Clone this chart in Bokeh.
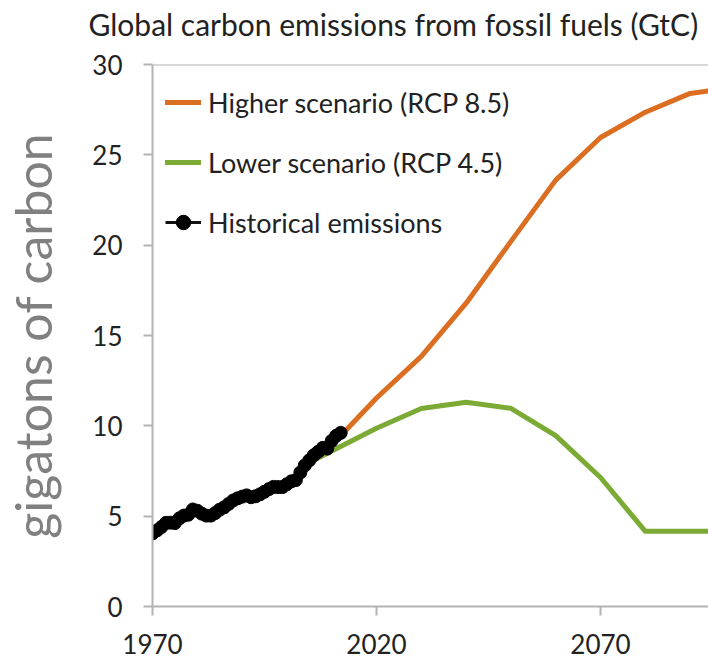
from bokeh.plotting import figure
from bokeh.models import FixedTicker, Span, Legend, LegendItem, Range1d
from bokeh.embed import file_html
from bokeh.resources import INLINE

# ---- data (GtC) ----
hist_years = list(range(1970, 2013))
hist_vals = [4.05, 4.21, 4.40, 4.63, 4.64, 4.62, 4.88, 5.03, 5.08, 5.37,
             5.30, 5.14, 5.03, 5.03, 5.17, 5.36, 5.49, 5.68, 5.87, 5.99,
             6.08, 6.15, 6.05, 6.10, 6.21, 6.35, 6.50, 6.62, 6.61, 6.61,
             6.77, 6.93, 7.00, 7.42, 7.81, 8.09, 8.37, 8.57, 8.78, 8.74,
             9.17, 9.45, 9.61]

scen_years = [2000, 2005, 2010, 2020, 2030, 2040, 2050, 2060, 2070, 2080, 2090, 2100]
rcp85 = [6.74, 7.97, 8.93, 11.54, 13.84, 16.79, 20.21, 23.60, 25.96, 27.36, 28.40, 28.72]
rcp45 = [6.74, 7.97, 8.61, 9.87, 10.96, 11.30, 10.97, 9.46, 7.14, 4.16, 4.16, 4.17]

x_ticks = [1970, 2020, 2070]
y_ticks = [0, 5, 10, 15, 20, 25, 30]

label_high = "Higher scenario (RCP 8.5)"
label_low = "Lower scenario (RCP 4.5)"
label_hist = "Historical emissions"
title_text = "Global carbon emissions from fossil fuels (GtC)"
y_label = "gigatons of carbon"

FONT = "Lato"
ORANGE = "#DC6E22"
GREEN = "#7BAA35"
AXIS = "#b3b3b3"
TXT = "#222222"

p = figure(width=708, height=685,
           x_range=Range1d(1970, 2094.1), y_range=Range1d(0, 30),
           output_backend="svg", toolbar_location=None,
           min_border_left=152, min_border_right=0,
           min_border_top=84, min_border_bottom=59,
           margin=(-20, 0, 0, 0))

p.title.text = title_text
p.title.text_font = FONT
p.title.text_font_size = "30px"
p.title.text_font_style = "normal"
p.title.text_color = TXT
p.title.align = "left"
p.title.offset = -64
p.title.vertical_align = "top"
p.title.standoff = 42

p.outline_line_color = None
p.xgrid.visible = False
p.ygrid.visible = False

for ax in (p.xaxis[0], p.yaxis[0]):
    ax.axis_line_color = AXIS
    ax.axis_line_width = 2
    ax.major_tick_line_color = AXIS
    ax.major_tick_line_width = 2
    ax.major_tick_out = 9
    ax.major_tick_in = 0
    ax.minor_tick_line_color = None
    ax.major_label_text_font = FONT
    ax.major_label_text_font_size = "26px"
    ax.major_label_text_color = TXT

p.xaxis.ticker = FixedTicker(ticks=x_ticks)
p.yaxis.ticker = FixedTicker(ticks=y_ticks)
p.xaxis.major_label_standoff = 18
p.yaxis.major_label_standoff = 21

p.yaxis.axis_label = y_label
p.yaxis.axis_label_text_font = FONT
p.yaxis.axis_label_text_font_size = "50px"
p.yaxis.axis_label_text_font_style = "normal"
p.yaxis.axis_label_text_color = "#808080"
p.yaxis.axis_label_standoff = 26

# top border line of the plot area
p.add_layout(Span(location=y_ticks[-1], dimension="width", line_color=AXIS, line_width=2))

r45 = p.line(scen_years, rcp45, line_color=GREEN, line_width=5,
             line_join="round", line_cap="round")
r85 = p.line(scen_years, rcp85, line_color=ORANGE, line_width=5,
             line_join="round", line_cap="round")
rh_line = p.line(hist_years, hist_vals, line_color="#111111", line_width=3)
rh_pts = p.scatter(hist_years, hist_vals, size=13, fill_color="black", line_color="black")

legend = Legend(items=[
    LegendItem(label=label_high, renderers=[r85]),
    LegendItem(label=label_low, renderers=[r45]),
    LegendItem(label=label_hist, renderers=[rh_line, rh_pts]),
], location="top_left")
legend.margin = 13
legend.padding = 10
legend.glyph_width = 36
legend.glyph_height = 50
legend.label_height = 50
legend.spacing = 10
legend.label_standoff = 7
legend.label_text_font = FONT
legend.label_text_font_size = "27px"
legend.label_text_color = TXT
legend.background_fill_alpha = 0
legend.border_line_color = None
p.add_layout(legend)

open("out.html", "w").write(file_html(p, INLINE))
